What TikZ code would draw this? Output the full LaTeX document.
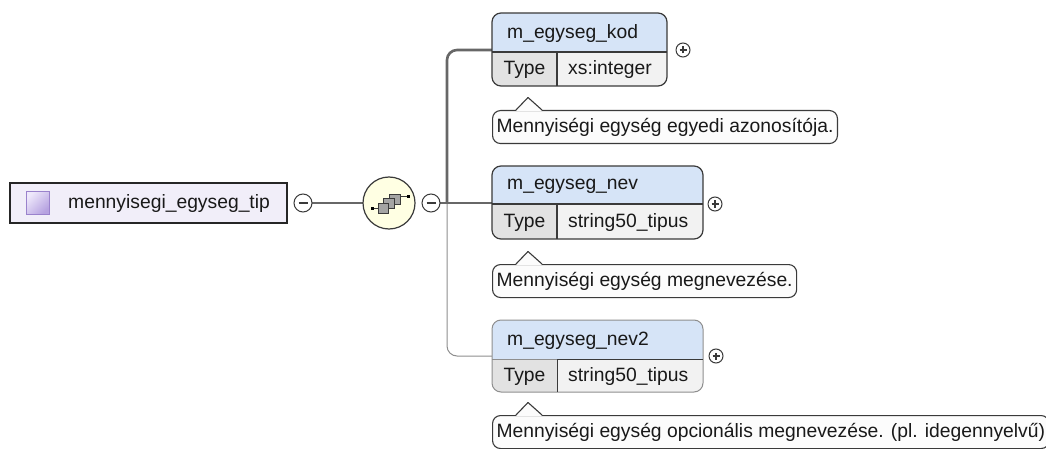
\documentclass[tikz,border=0pt]{standalone}
\usepackage{fontspec}
\setmainfont{Liberation Sans}
\usetikzlibrary{fit}
\definecolor{bd}{HTML}{3A3A3A}
\definecolor{lineg}{HTML}{676767}
\definecolor{thinl}{HTML}{8E8E8E}
\definecolor{rootf}{HTML}{F1EEF9}
\definecolor{hdrc}{HTML}{D6E4F7}
\definecolor{rowc}{HTML}{F2F2F2}
\definecolor{typec}{HTML}{E2E2E2}
\definecolor{seqf}{HTML}{FFFFE3}
\definecolor{cmtf}{HTML}{FCFCFC}
\definecolor{icolight}{HTML}{EEE8FB}
\definecolor{icodark}{HTML}{B6A2E0}
\definecolor{icobd}{HTML}{9A82CC}
\definecolor{sqf}{HTML}{A4A4A4}
\newcommand\xsElem[8]{%
  \begin{scope}
    \clip[rounded corners=9pt] (#2,#3) rectangle (#4,#5);
    \fill[rowc] (#2,#3) rectangle (#4,#5);
    \fill[hdrc] (#2,#3) rectangle (#4,#6);
    \fill[typec] (#2,#6) rectangle (557,#5);
  \end{scope}
  \node[elemframe, fit={(#2,#3) (#4,#5)}] (#1) {};
  \draw[elemline] (#2,#6) -- (#4,#6) (557,#6) -- (557,#5);
  \node[txt, anchor=west] (#1-name) at ({#2+15},{(#3+#6)/2+1}) {#7};
  \node[txt] (#1-tl) at ({(#2+557)/2},{(#6+#5)/2+1}) {Type};
  \node[txt, anchor=west] (#1-type) at (568,{(#6+#5)/2+1}) {#8};
}
\begin{document}
\begin{tikzpicture}[x=1pt,y=-1pt,
  font=\fontsize{19.3}{22}\selectfont,
  txt/.style={inner sep=0pt, text=black!90},
  conn/.style={draw=lineg, line width=2.6pt},
  thinconn/.style={draw=thinl, line width=1pt},
  elemframe/.style={draw=bd, line width=1.2pt, rounded corners=9pt, inner sep=0pt},
  elemline/.style={draw=bd, line width=1.2pt},
  togglec/.style={circle, draw=bd, fill=white, line width=1pt, inner sep=0pt},
  sign/.style={draw=bd, line width=1.1pt},
  cmt/.style={draw=bd, fill=cmtf, rounded corners=8pt, line width=1.1pt,
    minimum height=33pt, inner xsep=4pt, inner ysep=0pt, text=black!90},
  ptr/.style={draw=bd, line width=1.1pt, line join=round},
  sqbox/.style={draw=bd, fill=sqf, line width=0.9pt}]
\useasboundingbox (0,0) rectangle (1046,449);
\fill[white] (0,0) rectangle (1046,449);

% connectors
\coordinate (bar) at (447,203);
\draw[thinconn, rounded corners=10pt] (bar) |- (492,356);
\draw[conn, rounded corners=10pt] (bar) |- (492,50);
\draw[conn] (312,203) -- (363,203);
\draw[conn] (440,203) -- (492,203);

% root
\node[draw=black!85, fill=rootf, line width=1.4pt, minimum width=277pt, minimum height=40pt, inner sep=0pt] (root) at (148.5,203) {};
\node[draw=icobd, line width=1pt, top color=icolight, bottom color=icodark, shading angle=45, minimum width=23pt, minimum height=22pt, inner sep=0pt] (ico) at (37.5,203) {};
\node[txt, anchor=west] (rootlbl) at (68,204) {mennyisegi\_egyseg\_tip};

% toggles
\node[togglec, minimum size=18pt] (m1) at (303,203) {};
\draw[sign] ([xshift=-4.5pt]m1.center) -- ([xshift=4.5pt]m1.center);
\node[circle, draw=bd, fill=seqf, line width=1.2pt, minimum size=52pt, inner sep=0pt] (seq) at (389,203) {};
\node[togglec, minimum size=18pt] (m2) at (431,203) {};
\draw[sign] ([xshift=-4.5pt]m2.center) -- ([xshift=4.5pt]m2.center);

% sequence icon
\draw[bd, line width=1pt] (372,208) -- (378,208);
\draw[bd, line width=1pt] (400,197) -- (408,197);
\fill[black] (370.5,206.5) rectangle (373.5,209.5);
\fill[black] (406.5,195.5) rectangle (409.5,198.5);
\draw[sqbox] (389,194) rectangle (400,204);
\draw[sqbox] (383.5,198.5) rectangle (394.5,208.5);
\draw[sqbox] (378,203) rectangle (388.5,213);

% elements
\xsElem{e1}{492}{13}{667}{86}{52}{m\_egyseg\_kod}{xs:integer}
\xsElem{e2}{492}{166}{703}{239}{204}{m\_egyseg\_nev}{string50\_tipus}
\begin{scope}[elemframe/.style={draw=thinl, line width=1pt, rounded corners=9pt, inner sep=0pt},
              elemline/.style={draw=bd, line width=1pt}]
\xsElem{e3}{492}{320}{703}{392}{359}{m\_egyseg\_nev2}{string50\_tipus}
\draw[thinl, line width=1pt] (492,359) -- (557,359);
\end{scope}

% plus toggles
\foreach \n/\px/\py in {p1/683/50, p2/715/204, p3/716/356}{
  \node[togglec, minimum size=14pt] (\n) at (\px,\py) {};
  \draw[sign] ([xshift=-3.5pt]\n.center) -- ([xshift=3.5pt]\n.center);
  \draw[sign] ([yshift=-3.5pt]\n.center) -- ([yshift=3.5pt]\n.center);
}

% comments
\node[cmt, anchor=north west] (c1) at (492,110) {Mennyiségi egység egyedi azonosítója.};
\node[cmt, anchor=north west] (c2) at (492,264) {Mennyiségi egység megnevezése.};
\node[cmt, anchor=north west] (c3) at (492,415) {Mennyiségi egység opcionális megnevezése. (pl. idegennyelvű)};
\foreach \c in {c1,c2,c3}{
  \fill[cmtf] ([xshift=24pt,yshift=-0.8pt]\c.north west) -- ([xshift=36pt,yshift=12.5pt]\c.north west) -- ([xshift=50pt,yshift=-0.8pt]\c.north west) -- cycle;
  \draw[ptr] ([xshift=24pt]\c.north west) -- ([xshift=36pt,yshift=12.5pt]\c.north west) -- ([xshift=50pt]\c.north west);
}
\end{tikzpicture}
\end{document}
